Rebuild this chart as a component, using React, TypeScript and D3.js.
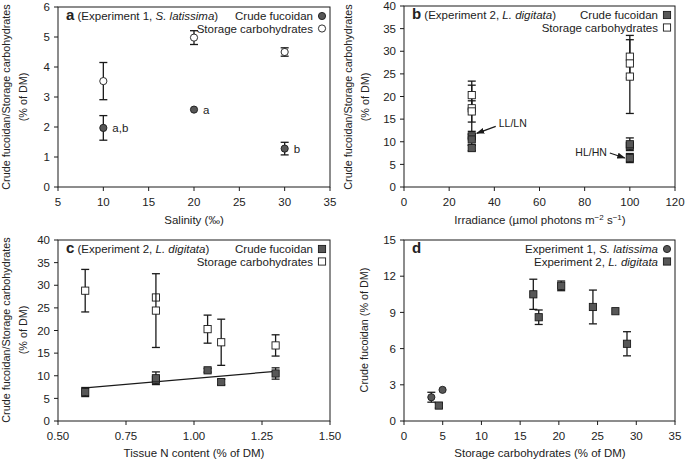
import React from "react";
import * as d3 from "d3";

// Experiment 1 (S. latissima), three salinities
const salinity = [10, 20, 30];
const exp1Fucoidan = [1.97, 2.58, 1.28];
const exp1FucoidanErr = [0.41, 0, 0.21];
const exp1Storage = [3.53, 4.98, 4.5];
const exp1StorageErr = [0.62, 0.23, 0.14];
const exp1Letters = ["a,b", "a", "b"];

// Experiment 2 (L. digitata), six treatments
const irradiance = [100, 100, 100, 30, 30, 30];
const tissueN = [0.6, 0.86, 0.86, 1.05, 1.1, 1.3];
const exp2Storage = [28.8, 27.3, 24.4, 20.3, 17.4, 16.7];
const exp2StorageErr = [4.7, 0, 8.15, 3.1, 5.1, 2.35];
const exp2Fucoidan = [6.4, 9.1, 9.45, 11.2, 8.6, 10.5];
const exp2FucoidanErr = [1.0, 0, 1.4, 0.4, 0.6, 1.25];

const ticksA = { x: [5, 10, 15, 20, 25, 30, 35], y: [0, 1, 2, 3, 4, 5, 6] };
const ticksB = { x: [0, 20, 40, 60, 80, 100, 120], y: [0, 5, 10, 15, 20, 25, 30, 35, 40] };
const ticksC = { x: [0.5, 0.75, 1.0, 1.25, 1.5], y: [0, 5, 10, 15, 20, 25, 30, 35, 40] };
const ticksD = { x: [0, 5, 10, 15, 20, 25, 30, 35], y: [0, 3, 6, 9, 12, 15] };

const FONT = "'Liberation Sans', Arial, Helvetica, sans-serif";
const INK = "#1a1a1a";
const FILL = "#575757";
const FS = 11.5;

type Scale = d3.ScaleLinear<number, number>;

function Axes({ x, y, xt, yt, xf, yf }: { x: Scale; y: Scale; xt: number[]; yt: number[]; xf: (v: number) => string; yf: (v: number) => string }) {
  const [x0, x1] = x.range();
  const [y0, y1] = y.range();
  return (
    <g>
      <rect x={x0} y={y1} width={x1 - x0} height={y0 - y1} fill="none" stroke={INK} strokeWidth={1} />
      {xt.map((t) => (
        <g key={"x" + t}>
          <line x1={x(t)} x2={x(t)} y1={y0} y2={y0 + 4} stroke={INK} />
          <text x={x(t)} y={y0 + 19} textAnchor="middle" fontSize={FS} fill="#222">{xf(t)}</text>
        </g>
      ))}
      {yt.map((t) => (
        <g key={"y" + t}>
          <line x1={x0 - 4} x2={x0} y1={y(t)} y2={y(t)} stroke={INK} />
          <text x={x0 - 8} y={y(t)} dy="0.36em" textAnchor="end" fontSize={FS} fill="#222">{yf(t)}</text>
        </g>
      ))}
    </g>
  );
}

function ErrBar({ cx, lo, hi }: { cx: number; lo: number; hi: number }) {
  if (Math.abs(lo - hi) < 0.5) return null;
  return (
    <g stroke={INK} strokeWidth={1.3}>
      <line x1={cx} x2={cx} y1={lo} y2={hi} />
      <line x1={cx - 4} x2={cx + 4} y1={lo} y2={lo} />
      <line x1={cx - 4} x2={cx + 4} y1={hi} y2={hi} />
    </g>
  );
}

function Mark({ cx, cy, shape, filled }: { cx: number; cy: number; shape: "circle" | "square"; filled: boolean }) {
  const fill = filled ? FILL : "#fff";
  if (shape === "circle") return <circle cx={cx} cy={cy} r={3.6} fill={fill} stroke={INK} strokeWidth={0.9} />;
  return <rect x={cx - 3.6} y={cy - 3.6} width={7.2} height={7.2} fill={fill} stroke={INK} strokeWidth={0.9} />;
}

function Legend({ right, top, items }: { right: number; top: number; items: { label: React.ReactNode; shape: "circle" | "square"; filled: boolean }[] }) {
  return (
    <g>
      {items.map((it, i) => (
        <g key={i}>
          <text x={right - 17} y={top + 13 + i * 12.5} textAnchor="end" fontSize={FS} fill="#222">{it.label}</text>
          <Mark cx={right - 8} cy={top + 9 + i * 12.5} shape={it.shape} filled={it.filled} />
        </g>
      ))}
    </g>
  );
}

function Title({ left, top, letter, exp, species }: { left: number; top: number; letter: string; exp: string; species: string }) {
  return (
    <text x={left + 8} y={top + 13} fontSize={FS} fill="#222">
      <tspan fontWeight="bold" fontSize={15}>{letter}</tspan>
      <tspan>{` (${exp}, `}</tspan>
      <tspan fontStyle="italic">{species}</tspan>
      <tspan>)</tspan>
    </text>
  );
}

function YLabel({ x, cy, lines }: { x: number[]; cy: number; lines: string[] }) {
  return (
    <g>
      {lines.map((l, i) => (
        <text key={i} transform={`translate(${x[i]},${cy}) rotate(-90)`} textAnchor="middle" fontSize={10.8} fill="#222">{l}</text>
      ))}
    </g>
  );
}

export default function App() {
  const fmtInt = d3.format("d");
  const fmt2 = d3.format(".2f");

  // panel a
  const xa = d3.scaleLinear().domain([5, 35]).range([58, 330]);
  const ya = d3.scaleLinear().domain([0, 6]).range([187, 7]);
  // panel b
  const xb = d3.scaleLinear().domain([0, 120]).range([404, 675]);
  const yb = d3.scaleLinear().domain([0, 40]).range([187, 6]);
  // panel c
  const xc = d3.scaleLinear().domain([0.5, 1.5]).range([58, 330]);
  const yc = d3.scaleLinear().domain([0, 40]).range([421, 240]);
  // panel d
  const xd = d3.scaleLinear().domain([0, 35]).range([404, 675]);
  const yd = d3.scaleLinear().domain([0, 15]).range([421, 240]);

  // least squares fit of fucoidan on tissue N (panel c)
  const mx = d3.mean(tissueN)!;
  const my = d3.mean(exp2Fucoidan)!;
  const sxy = d3.sum(tissueN, (v, i) => (v - mx) * (exp2Fucoidan[i] - my));
  const sxx = d3.sum(tissueN, (v) => (v - mx) ** 2);
  const slope = sxy / sxx;
  const fit = (v: number) => my + slope * (v - mx);
  const [nMin, nMax] = d3.extent(tissueN) as [number, number];
  const fitLine = d3.line<number>().x((v) => xc(v)).y((v) => yc(fit(v)))([nMin, nMax]);

  // the 30 ‰ treatment is drawn as a square in panel d of the original
  const squareInD = new Set([30]);

  const llIdx = exp2Fucoidan.indexOf(d3.max(exp2Fucoidan.filter((_, i) => irradiance[i] === 30))!);
  const hlIdx = exp2Fucoidan.indexOf(d3.min(exp2Fucoidan.filter((_, i) => irradiance[i] === 100))!);
  const llTip = [xb(irradiance[llIdx]) + 5, yb(exp2Fucoidan[llIdx]) - 3];
  const hlTip = [xb(irradiance[hlIdx]) - 5, yb(exp2Fucoidan[hlIdx])];

  return (
    <svg width={685} height={460} style={{ position: "absolute", left: 0, top: 0, background: "#fff" }} fontFamily={FONT}>
      <defs>
        <marker id="arr" viewBox="0 0 10 10" refX={9} refY={5} markerWidth={7} markerHeight={7} orient="auto">
          <path d="M0,1.5 L10,5 L0,8.5 Z" fill={INK} />
        </marker>
      </defs>

      {/* ---------- a ---------- */}
      <Axes x={xa} y={ya} xt={ticksA.x} yt={ticksA.y} xf={fmtInt} yf={fmtInt} />
      {salinity.map((s, i) => (
        <g key={"a" + i}>
          <ErrBar cx={xa(s)} lo={ya(exp1Storage[i] - exp1StorageErr[i])} hi={ya(exp1Storage[i] + exp1StorageErr[i])} />
          <Mark cx={xa(s)} cy={ya(exp1Storage[i])} shape="circle" filled={false} />
          <ErrBar cx={xa(s)} lo={ya(exp1Fucoidan[i] - exp1FucoidanErr[i])} hi={ya(exp1Fucoidan[i] + exp1FucoidanErr[i])} />
          <Mark cx={xa(s)} cy={ya(exp1Fucoidan[i])} shape="circle" filled={true} />
          <text x={xa(s) + 9} y={ya(exp1Fucoidan[i]) + 4} fontSize={FS} fill="#222">{exp1Letters[i]}</text>
        </g>
      ))}
      <Title left={58} top={7} letter="a" exp="Experiment 1" species="S. latissima" />
      <Legend right={330} top={7} items={[
        { label: "Crude fucoidan", shape: "circle", filled: true },
        { label: "Storage carbohydrates", shape: "circle", filled: false },
      ]} />
      <YLabel x={[10, 27]} cy={97} lines={["Crude fucoidan/Storage carbohydrates", "(% of DM)"]} />
      <text x={194} y={224} textAnchor="middle" fontSize={FS} fill="#222">Salinity (‰)</text>

      {/* ---------- b ---------- */}
      <Axes x={xb} y={yb} xt={ticksB.x} yt={ticksB.y} xf={fmtInt} yf={fmtInt} />
      {irradiance.map((r, i) => (
        <g key={"bs" + i}>
          <ErrBar cx={xb(r)} lo={yb(exp2Storage[i] - exp2StorageErr[i])} hi={yb(exp2Storage[i] + exp2StorageErr[i])} />
          <ErrBar cx={xb(r)} lo={yb(exp2Fucoidan[i] - exp2FucoidanErr[i])} hi={yb(exp2Fucoidan[i] + exp2FucoidanErr[i])} />
        </g>
      ))}
      {irradiance.map((r, i) => (
        <g key={"bm" + i}>
          <Mark cx={xb(r)} cy={yb(exp2Storage[i])} shape="square" filled={false} />
          <Mark cx={xb(r)} cy={yb(exp2Fucoidan[i])} shape="square" filled={true} />
        </g>
      ))}
      <line x1={llTip[0] + 19} y1={llTip[1] - 7} x2={llTip[0]} y2={llTip[1]} stroke={INK} strokeWidth={1.2} markerEnd="url(#arr)" />
      <text x={llTip[0] + 22} y={llTip[1] - 6} fontSize={10.5} fill="#222">LL/LN</text>
      <line x1={hlTip[0] - 15} y1={hlTip[1] - 5} x2={hlTip[0]} y2={hlTip[1]} stroke={INK} strokeWidth={1.2} markerEnd="url(#arr)" />
      <text x={hlTip[0] - 18} y={hlTip[1] - 2} textAnchor="end" fontSize={10.5} fill="#222">HL/HN</text>
      <Title left={404} top={6} letter="b" exp="Experiment 2" species="L. digitata" />
      <Legend right={675} top={6} items={[
        { label: "Crude fucoidan", shape: "square", filled: true },
        { label: "Storage carbohydrates", shape: "square", filled: false },
      ]} />
      <YLabel x={[352, 369]} cy={97} lines={["Crude fucoidan/Storage carbohydrates", "(% of DM)"]} />
      <text x={540} y={224} textAnchor="middle" fontSize={FS} fill="#222">
        Irradiance (µmol photons m<tspan fontSize={8} dy={-4}>−2</tspan><tspan dy={4}> s</tspan><tspan fontSize={8} dy={-4}>−1</tspan><tspan dy={4}>)</tspan>
      </text>

      {/* ---------- c ---------- */}
      <Axes x={xc} y={yc} xt={ticksC.x} yt={ticksC.y} xf={fmt2} yf={fmtInt} />
      {tissueN.map((n, i) => (
        <g key={"cs" + i}>
          <ErrBar cx={xc(n)} lo={yc(exp2Storage[i] - exp2StorageErr[i])} hi={yc(exp2Storage[i] + exp2StorageErr[i])} />
          <Mark cx={xc(n)} cy={yc(exp2Storage[i])} shape="square" filled={false} />
          <ErrBar cx={xc(n)} lo={yc(exp2Fucoidan[i] - exp2FucoidanErr[i])} hi={yc(exp2Fucoidan[i] + exp2FucoidanErr[i])} />
        </g>
      ))}
      <path d={fitLine ?? ""} fill="none" stroke={INK} strokeWidth={1.2} />
      {tissueN.map((n, i) => (
        <Mark key={"cf" + i} cx={xc(n)} cy={yc(exp2Fucoidan[i])} shape="square" filled={true} />
      ))}
      <Title left={58} top={240} letter="c" exp="Experiment 2" species="L. digitata" />
      <Legend right={330} top={240} items={[
        { label: "Crude fucoidan", shape: "square", filled: true },
        { label: "Storage carbohydrates", shape: "square", filled: false },
      ]} />
      <YLabel x={[10, 27]} cy={330} lines={["Crude fucoidan/Storage carbohydrates", "(% of DM)"]} />
      <text x={194} y={457} textAnchor="middle" fontSize={FS} fill="#222">Tissue N content (% of DM)</text>

      {/* ---------- d ---------- */}
      <Axes x={xd} y={yd} xt={ticksD.x} yt={ticksD.y} xf={fmtInt} yf={fmtInt} />
      {salinity.map((s, i) => (
        <g key={"d1" + i}>
          <ErrBar cx={xd(exp1Storage[i])} lo={yd(exp1Fucoidan[i] - exp1FucoidanErr[i])} hi={yd(exp1Fucoidan[i] + exp1FucoidanErr[i])} />
          <Mark cx={xd(exp1Storage[i])} cy={yd(exp1Fucoidan[i])} shape={squareInD.has(s) ? "square" : "circle"} filled={true} />
        </g>
      ))}
      {exp2Storage.map((st, i) => (
        <g key={"d2" + i}>
          <ErrBar cx={xd(st)} lo={yd(exp2Fucoidan[i] - exp2FucoidanErr[i])} hi={yd(exp2Fucoidan[i] + exp2FucoidanErr[i])} />
          <Mark cx={xd(st)} cy={yd(exp2Fucoidan[i])} shape="square" filled={true} />
        </g>
      ))}
      <text x={412} y={253} fontSize={15} fontWeight="bold" fill="#222">d</text>
      <Legend right={675} top={240} items={[
        { label: <>Experiment 1, <tspan fontStyle="italic">S. latissima</tspan></>, shape: "circle", filled: true },
        { label: <>Experiment 2, <tspan fontStyle="italic">L. digitata</tspan></>, shape: "square", filled: true },
      ]} />
      <YLabel x={[368]} cy={330} lines={["Crude fucoidan (% of DM)"]} />
      <text x={540} y={457} textAnchor="middle" fontSize={FS} fill="#222">Storage carbohydrates (% of DM)</text>
    </svg>
  );
}
